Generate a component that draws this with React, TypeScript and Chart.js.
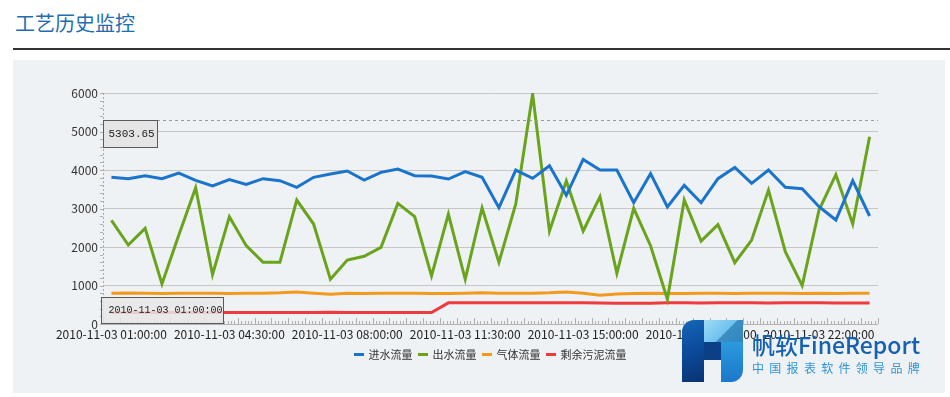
import React, { useEffect, useRef } from "react";
import { Chart, registerables } from "chart.js";

Chart.register(...registerables);

const titleText = "工艺历史监控";

const categories = [
  "2010-11-03 01:00:00", "2010-11-03 01:30:00", "2010-11-03 02:00:00", "2010-11-03 02:30:00",
  "2010-11-03 03:00:00", "2010-11-03 03:30:00", "2010-11-03 04:00:00", "2010-11-03 04:30:00",
  "2010-11-03 05:00:00", "2010-11-03 05:30:00", "2010-11-03 06:00:00", "2010-11-03 06:30:00",
  "2010-11-03 07:00:00", "2010-11-03 07:30:00", "2010-11-03 08:00:00", "2010-11-03 08:30:00",
  "2010-11-03 09:00:00", "2010-11-03 09:30:00", "2010-11-03 10:00:00", "2010-11-03 10:30:00",
  "2010-11-03 11:00:00", "2010-11-03 11:30:00", "2010-11-03 12:00:00", "2010-11-03 12:30:00",
  "2010-11-03 13:00:00", "2010-11-03 13:30:00", "2010-11-03 14:00:00", "2010-11-03 14:30:00",
  "2010-11-03 15:00:00", "2010-11-03 15:30:00", "2010-11-03 16:00:00", "2010-11-03 16:30:00",
  "2010-11-03 17:00:00", "2010-11-03 17:30:00", "2010-11-03 18:00:00", "2010-11-03 18:30:00",
  "2010-11-03 19:00:00", "2010-11-03 19:30:00", "2010-11-03 20:00:00", "2010-11-03 20:30:00",
  "2010-11-03 21:00:00", "2010-11-03 21:30:00", "2010-11-03 22:00:00", "2010-11-03 22:30:00",
  "2010-11-03 23:00:00", "2010-11-03 23:30:00",
];

const shownTickLabels = [
  "2010-11-03 01:00:00", "2010-11-03 04:30:00", "2010-11-03 08:00:00", "2010-11-03 11:30:00",
  "2010-11-03 15:00:00", "2010-11-03 18:30:00", "2010-11-03 22:00:00",
];

const inflow = [
  3810, 3775, 3852, 3775, 3922, 3732, 3584, 3749, 3628, 3775, 3723, 3550, 3810, 3896, 3973, 3740,
  3939, 4025, 3852, 3844, 3766, 3956, 3810, 3021, 3999, 3783, 4112, 3342, 4276, 3999, 3999, 3151,
  3904, 3038, 3601, 3151, 3775, 4068, 3653, 3999, 3549, 3514, 3047, 2701, 3723, 2805,
];

const outflow = [
  2693, 2052, 2484, 1039, 2311, 3540, 1281, 2788, 2034, 1601, 1601, 3220, 2597, 1160, 1662, 1760,
  1991, 3134, 2788, 1247, 2857, 1160, 3013, 1601, 3116, 5973, 2415, 3714, 2415, 3307, 1316, 3004,
  2034, 641, 3220, 2155, 2580, 1593, 2181, 3480, 1879, 996, 2960, 3878, 2597, 4865,
];

const gasFlow = [
  800, 805, 800, 795, 800, 800, 800, 795, 800, 800, 810, 830, 800, 770, 800, 795,
  800, 800, 800, 790, 790, 800, 810, 800, 800, 800, 810, 830, 800, 750, 780, 790,
  800, 795, 790, 800, 800, 795, 800, 800, 800, 795, 800, 790, 800, 800,
];

const sludgeFlow = [
  300, 300, 300, 300, 300, 300, 300, 300, 300, 300, 300, 300, 300, 305, 300, 300,
  300, 300, 300, 300, 550, 550, 555, 550, 550, 550, 550, 550, 550, 545, 540, 540,
  540, 550, 550, 545, 550, 550, 550, 545, 550, 550, 550, 545, 545, 545,
];

const seriesNames = ["进水流量", "出水流量", "气体流量", "剩余污泥流量"];
const seriesColors = ["#1a74cc", "#6aa31c", "#f39a1e", "#ee3b3d"];

const yTicks = [0, 1000, 2000, 3000, 4000, 5000, 6000];
const crosshairValue = 5303.65;
const crosshairValueText = "5303.65";
const crosshairCategory = "2010-11-03 01:00:00";

const FONT = "'Noto Sans CJK SC', 'Noto Sans', sans-serif";

const decorPlugin = {
  id: "decor",
  beforeDatasetsDraw(chart: any) {
    const { ctx, chartArea } = chart;
    const { left, right, top, bottom } = chartArea;
    const y = chart.scales.y;
    ctx.save();
    ctx.strokeStyle = "#a8a8a8";
    ctx.lineWidth = 1;
    ctx.setLineDash([2, 2]);
    ctx.beginPath();
    ctx.moveTo(Math.round(left) + 0.5, top);
    ctx.lineTo(Math.round(left) + 0.5, bottom);
    ctx.stroke();
    ctx.setLineDash([]);
    ctx.strokeStyle = "#b0b0b0";
    for (let v = 0; v <= 6000; v += 200) {
      const py = Math.round(y.getPixelForValue(v)) + 0.5;
      ctx.beginPath();
      ctx.moveTo(left - 3, py);
      ctx.lineTo(left, py);
      ctx.stroke();
    }
    ctx.strokeStyle = "#b4b4b4";
    ctx.beginPath();
    ctx.moveTo(left, Math.round(bottom) + 0.5);
    ctx.lineTo(right, Math.round(bottom) + 0.5);
    ctx.stroke();
    const n = categories.length;
    const step = (right - left) / n;
    ctx.strokeStyle = "#b0b0b0";
    for (let i = 0; i <= n * 5; i++) {
      const px = Math.round(left + (i * step) / 5) + 0.5;
      const h = i % 5 === 0 ? 6 : 3;
      ctx.beginPath();
      ctx.moveTo(px, bottom);
      ctx.lineTo(px, bottom - h);
      ctx.stroke();
    }
    ctx.restore();
  },
  afterDatasetsDraw(chart: any) {
    const { ctx, chartArea } = chart;
    const { left, right, bottom } = chartArea;
    const y = chart.scales.y;
    const py = Math.round(y.getPixelForValue(crosshairValue)) + 0.5;
    ctx.save();
    ctx.strokeStyle = "#9a9a9a";
    ctx.lineWidth = 1;
    ctx.setLineDash([3, 3]);
    ctx.beginPath();
    ctx.moveTo(left, py);
    ctx.lineTo(right, py);
    ctx.stroke();
    ctx.setLineDash([]);
    ctx.fillStyle = "rgba(228,228,228,0.95)";
    ctx.strokeStyle = "#5a5a5a";
    const bx = Math.round(left) + 0.5;
    ctx.fillRect(bx, py, 54, 27);
    ctx.strokeRect(bx, py, 54, 27);
    ctx.fillStyle = "#222";
    ctx.font = "11px 'Liberation Mono', monospace";
    ctx.textBaseline = "middle";
    ctx.textAlign = "left";
    ctx.fillText(crosshairValueText, bx + 5, py + 14);
    const cx = Math.round(left) - 1.5;
    const cy = Math.round(bottom) - 26.5;
    ctx.fillStyle = "rgba(232,232,232,0.85)";
    ctx.fillRect(cx, cy, 122, 26);
    ctx.strokeRect(cx, cy, 122, 26);
    ctx.fillStyle = "#222";
    ctx.font = "10px 'Liberation Mono', monospace";
    ctx.fillText(crosshairCategory, cx + 7, cy + 13);
    ctx.restore();
  },
};

export default function App() {
  const canvasRef = useRef<HTMLCanvasElement | null>(null);

  useEffect(() => {
    document.body.style.margin = "0";
    const canvas = canvasRef.current;
    if (!canvas) return;
    const datasetsData = [inflow, outflow, gasFlow, sludgeFlow];
    const chart = new Chart(canvas, {
      type: "line",
      data: {
        labels: categories,
        datasets: seriesNames.map((name, i) => ({
          label: name,
          data: datasetsData[i],
          borderColor: seriesColors[i],
          backgroundColor: seriesColors[i],
          borderWidth: 3,
          pointRadius: 0,
          pointHoverRadius: 0,
          tension: 0,
          fill: false,
        })),
      },
      options: {
        animation: false,
        responsive: false,
        devicePixelRatio: 1,
        layout: { padding: { top: 33, right: 62, bottom: 53, left: 0 } },
        plugins: {
          tooltip: { enabled: false },
          legend: { display: false },
        },
        scales: {
          x: {
            type: "category",
            offset: true,
            grid: { display: false, drawTicks: false },
            border: { display: false },
            afterFit: (scale: any) => {
              scale.height = 16;
            },
            ticks: {
              autoSkip: false,
              maxRotation: 0,
              minRotation: 0,
              padding: 3,
              color: "#222",
              font: { family: FONT, size: 12 },
              callback: function (this: any, value: any, index: number) {
                const lbl = categories[index];
                return shownTickLabels.includes(lbl) ? lbl : "";
              },
            },
          },
          y: {
            min: 0,
            max: 6000,
            afterFit: (scale: any) => {
              scale.width = 63;
            },
            afterBuildTicks: (scale: any) => {
              scale.ticks = yTicks.map((v) => ({ value: v }));
            },
            grid: {
              color: (c: any) => (c.tick && c.tick.value === 0 ? "rgba(0,0,0,0)" : "#c6c6c6"),
              drawTicks: false,
            },
            border: { display: false },
            ticks: {
              padding: 5,
              color: "#333",
              font: { family: FONT, size: 12 },
              callback: (v: any) => String(v),
            },
          },
        },
      },
      plugins: [decorPlugin],
    });
    return () => chart.destroy();
  }, []);

  return (
    <div style={{ position: "fixed", left: 0, top: 0, width: 950, height: 397, background: "#fff", overflow: "hidden" }}>
      <div
        style={{
          position: "absolute",
          left: 15,
          top: 9,
          fontFamily: FONT,
          fontSize: 20,
          lineHeight: "28px",
          color: "#1f6db3",
        }}
      >
        {titleText}
      </div>
      <div style={{ position: "absolute", left: 13, top: 48, width: 937, height: 1.5, background: "#333" }} />
      <div style={{ position: "absolute", left: 13, top: 60, width: 932, height: 333, background: "#eff2f5" }} />
      <canvas
        ref={canvasRef}
        width={900}
        height={333}
        style={{ position: "absolute", left: 40, top: 60, width: 900, height: 333 }}
      />
      {/* legend */}
      <div
        style={{
          position: "absolute",
          left: 290,
          width: 400,
          top: 346,
          height: 16,
          display: "flex",
          justifyContent: "center",
          alignItems: "center",
          fontFamily: FONT,
          fontSize: 11,
          color: "#333",
          whiteSpace: "nowrap",
        }}
      >
        {seriesNames.map((name, i) => (
          <div key={name} style={{ display: "flex", alignItems: "center", marginLeft: i === 0 ? 0 : 5 }}>
            <span style={{ display: "inline-block", width: 10, height: 3, background: seriesColors[i], marginRight: 5 }} />
            <span>{name}</span>
          </div>
        ))}
      </div>
      {/* watermark logo */}
      <div style={{ position: "absolute", left: 682, top: 320, width: 61, height: 62 }}>
        <div style={{ position: "absolute", left: 0, top: 0, width: 22, height: 62, borderTopLeftRadius: 12, background: "linear-gradient(160deg, #1466b8 0%, #0b4a9a 50%, #0a3274 100%)" }} />
        <div style={{ position: "absolute", left: 22, top: 0, width: 39, height: 22, background: "linear-gradient(135deg, #a4dcf7 0%, #6cc0ee 55%, #3d8fc2 56%, #2f86c4 100%)" }} />
        <div style={{ position: "absolute", left: 22, top: 22, width: 17, height: 18, background: "#0d3f86" }} />
        <div style={{ position: "absolute", left: 39, top: 22, width: 22, height: 40, borderBottomRightRadius: 12, background: "linear-gradient(180deg, #2b9ade 0%, #1a78c8 100%)" }} />
      </div>
      <div
        style={{
          position: "absolute",
          left: 752,
          top: 329,
          fontFamily: FONT,
          fontSize: 23,
          lineHeight: "30px",
          color: "#1561b1",
          whiteSpace: "nowrap",
          fontWeight: 500,
        }}
      >
        帆软FineReport
      </div>
      <div
        style={{
          position: "absolute",
          left: 752,
          top: 360,
          fontFamily: FONT,
          fontSize: 12,
          lineHeight: "16px",
          letterSpacing: 5.3,
          color: "#2f93dc",
          whiteSpace: "nowrap",
        }}
      >
        中国报表软件领导品牌
      </div>
    </div>
  );
}
